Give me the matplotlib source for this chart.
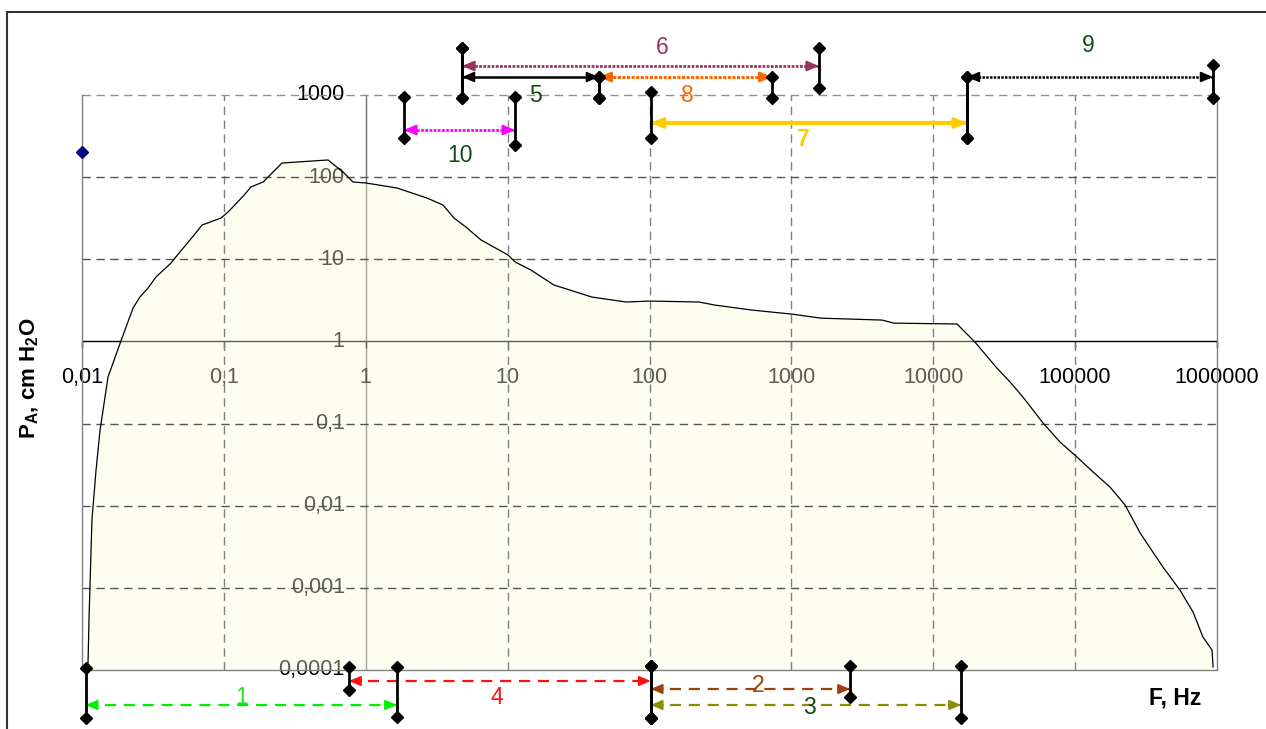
import matplotlib
matplotlib.use('Agg')
import numpy as np
import matplotlib.pyplot as plt
import matplotlib.transforms as mtransforms
from matplotlib.patches import Rectangle
from matplotlib.ticker import NullLocator

plt.rcParams['font.family'] = ['Liberation Sans', 'DejaVu Sans']
plt.rcParams['mathtext.default'] = 'regular'

# ---------------- data ----------------
freq_hz = [0.0110, 0.0112, 0.01175, 0.01256, 0.0134, 0.01525, 0.0188, 0.0229, 0.0256, 0.0292,
           0.0332, 0.0424, 0.0483, 0.0616, 0.0701, 0.0955, 0.107, 0.139, 0.155, 0.189,
           0.257, 0.542, 0.691, 0.813, 1.0, 1.66, 2.70, 3.50, 4.19, 5.08,
           6.49, 10.05, 11.3, 14.6, 21.2, 39.3, 68.2, 100.7, 223, 289,
           527, 1009, 1617, 4355, 5290, 14700, 19700, 28100, 34800, 42900,
           59300, 78200, 103000, 134000, 176000, 225000, 287000, 416000, 548000, 677000,
           796000, 922000, 938000]
pa_cmh2o = [1e-4, 4.1e-4, 0.0067, 0.0272, 0.083, 0.369, 1.01, 2.55, 3.47, 4.47,
            6.08, 9.0, 11.9, 19.7, 26.1, 31.8, 37.6, 60.5, 75.8, 87.3,
            148.6, 161.8, 115.6, 87.3, 84.9, 73.8, 55.7, 45.8, 31.8, 24.7,
            17.2, 11.3, 9.27, 7.40, 4.86, 3.47, 3.02, 3.10, 3.02, 2.77,
            2.41, 2.15, 1.92, 1.82, 1.67, 1.63, 0.98, 0.474, 0.321, 0.210,
            0.102, 0.0596, 0.0392, 0.0257, 0.0169, 0.0102, 0.00466, 0.00179, 0.00094, 0.00051,
            0.000252, 0.000175, 0.000109]

marker_hz = [0.01]
marker_pa = [200]

range_labels = ['1', '2', '3', '4', '5', '6', '7', '8', '9', '10']
range_lo_hz = [0.0106, 102, 102, 0.762, 4.77, 4.77, 102, 44, 17300, 1.86]
range_hi_hz = [1.66, 2590, 15700, 102, 44, 1566, 17300, 730, 937000, 11.3]

xtick_vals = [0.01, 0.1, 1, 10, 100, 1000, 1e4, 1e5, 1e6]
xtick_labels = ['0,01', '0,1', '1', '10', '100', '1000', '10000', '100000', '1000000']
ytick_vals = [1e-4, 1e-3, 1e-2, 1e-1, 1, 10, 100, 1000]
ytick_labels = ['0,0001', '0,001', '0,01', '0,1', '1', '10', '100', '1000']

# ---------------- layout / style ----------------
W, H = 1266, 729
L, R, T, B = 82, 1217, 95, 670


def fy(py):
    """pixel row -> axes fraction"""
    return (B - py) / (B - T)


DG = '#124a12'
# label: (arrow color, arrow lw, dash, arrow_y, left bar, right bar, label color, label_y, label dx, bold)
styles = {
    '1': ('#00F000', 1.6, (5, 3.5), 705, (668, 718), (667, 717), '#22E022', 697, 0, False),
    '2': ('#A0400A', 1.6, (5, 3.5), 689, (666, 718), (666, 697), '#A0400A', 686, 8, False),
    '3': ('#8C8C00', 1.6, (5, 3.5), 705, (666, 718), (666, 718), DG, 707, 4, False),
    '4': ('#FF1010', 1.6, (5, 3.5), 681, (667, 690), (666, 718), '#FF1010', 697, -3, False),
    '5': ('#000000', 1.8, None, 77, (48, 98), (77, 98), DG, 95, 5, False),
    '6': ('#993366', 2.0, (1, 0.5), 66, (48, 98), (48, 88), '#993366', 47, 22, False),
    '7': ('#FFCC00', 3.0, None, 123, (92, 138), (77, 138), '#FFCC00', 140, -5, True),
    '8': ('#FF6600', 2.2, (1, 0.5), 77, (77, 98), (77, 98), '#FF6600', 95, 2, False),
    '9': ('#000000', 1.8, (1, 0.5), 77, (77, 138), (65, 98), DG, 46, -2, False),
    '10': ('#FF00FF', 2.0, (1, 0.5), 130, (97, 138), (97, 145), DG, 155, 0, False),
}

fig = plt.figure(figsize=(W / 100, H / 100), dpi=100)
ax = fig.add_axes([L / W, 1 - B / H, (R - L) / W, (B - T) / H])
ax.set_xscale('log')
ax.set_yscale('log')
ax.set_xlim(xtick_vals[0], xtick_vals[-1])
ax.set_ylim(ytick_vals[0], ytick_vals[-1])
ax.xaxis.set_major_locator(NullLocator())
ax.xaxis.set_minor_locator(NullLocator())
ax.yaxis.set_major_locator(NullLocator())
ax.yaxis.set_minor_locator(NullLocator())
for s in ['left', 'right', 'bottom']:
    ax.spines[s].set_color('#808080')
    ax.spines[s].set_linewidth(1.0)
ax.spines['top'].set_visible(False)

# outer frame
fig.add_artist(Rectangle((7 / W, -0.2), 1.2, (H - 12) / H + 0.2, transform=fig.transFigure,
                         fill=False, ec='#333333', lw=1.5))

# crossing axes (drawn under the translucent fill)
ax.axhline(1, color='#000000', lw=1.0, zorder=1)
ax.axvline(1, color='#707070', lw=1.0, zorder=1)
ax.plot(xtick_vals, [1] * len(xtick_vals), ls='none', marker=3, ms=5, mew=1.0,
        color='#000000', zorder=1, clip_on=False)

# tick labels at crossing axes
xlab_tr = mtransforms.offset_copy(ax.transData, fig=fig, x=0, y=-36, units='dots')
for v, t in zip(xtick_vals, xtick_labels):
    ax.text(v, 1, t, transform=xlab_tr, ha='center', va='center', fontsize=15.5,
            color='black', zorder=1.5)
ylab_tr = mtransforms.offset_copy(ax.transData, fig=fig, x=-21, y=0, units='dots')
for v, t in zip(ytick_vals, ytick_labels):
    ax.text(1, v, t, transform=ylab_tr, ha='right', va='center', fontsize=15.5,
            color='black', zorder=1.5)

# translucent filled area and curve
ax.fill_between(freq_hz, pa_cmh2o, ytick_vals[0], color='#FAFAD8', alpha=0.37,
                lw=0, zorder=2)
ax.plot(freq_hz, pa_cmh2o, color='black', lw=0.9, zorder=3)

# gridlines
for v in xtick_vals[1:-1]:
    if v == 1:
        continue
    ax.axvline(v, color='#808080', lw=1.0, dashes=(6, 4), zorder=2.5)
for v in ytick_vals[1:]:
    if v == 1:
        continue
    ax.axhline(v, color='#555555' if v != 1000 else '#909090', lw=1.0, dashes=(6, 4),
               zorder=2.5, clip_on=False)

ax.plot(marker_hz, marker_pa, ls='none', marker='D', ms=6.5, color='#000080',
        zorder=5, clip_on=False)

# frequency range brackets
trans = mtransforms.blended_transform_factory(ax.transData, ax.transAxes)
for lab, lo, hi in zip(range_labels, range_lo_hz, range_hi_hz):
    c, lw, dash, ay, lb, rb, lc, ly, dx, bold = styles[lab]
    for xv, (t, b) in ((lo, lb), (hi, rb)):
        ax.plot([xv, xv], [fy(t), fy(b)], transform=trans, color='black', lw=2.0,
                marker='D', ms=6.5, clip_on=False, zorder=6)
    kw = dict(color=c, lw=lw, solid_capstyle='butt', clip_on=False, zorder=5)
    if dash is not None:
        kw['dashes'] = dash
    ax.plot([lo, hi], [fy(ay), fy(ay)], transform=trans, **kw)
    for xv, sgn in ((hi, -1), (lo, 1)):
        ax.annotate('', xy=(xv, fy(ay)), xycoords=trans,
                    xytext=(sgn * 12, 0), textcoords='offset pixels',
                    arrowprops=dict(arrowstyle='-|>,head_length=0.7,head_width=0.3',
                                    color=c, lw=lw * 0.8, shrinkA=0, shrinkB=0),
                    annotation_clip=False, zorder=5)
    ltr = mtransforms.offset_copy(trans, fig=fig, x=dx, y=0, units='dots')
    ax.text(np.sqrt(lo * hi), fy(ly), lab, transform=ltr, ha='center', va='center',
            fontsize=16.5, color=lc, fontweight='bold' if bold else 'normal', zorder=7)

# axis titles
fig.text(30 / W, 1 - 378 / H, 'P$_A$, cm H$_2$O', rotation=90, ha='center', va='center',
         fontsize=16, fontweight='bold')
fig.text(1175 / W, 1 - 698 / H, 'F, Hz', ha='center', va='center', fontsize=16.5,
         fontweight='bold')

fig.savefig('out.png', dpi=100)
